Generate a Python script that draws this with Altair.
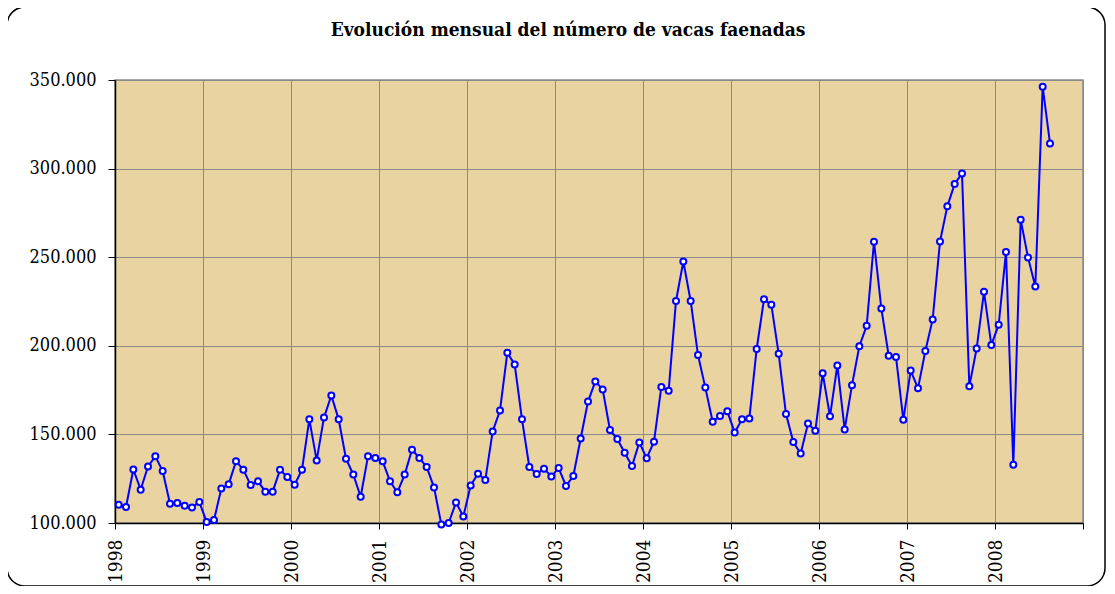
import altair as alt
import pandas as pd

# Monthly values (head of cattle), Jan 1998 .. Aug 2008
v1998 = [110300, 109000, 130200, 118800, 131900, 137600, 129300, 110900, 111300, 109800, 108800, 111800]
v1999 = [100600, 101700, 119400, 121800, 134800, 130100, 121400, 123500, 117700, 117700, 130000, 126000]
v2000 = [121600, 130100, 158500, 135300, 159600, 172000, 158500, 136300, 127300, 114800, 137600, 136700]
v2001 = [134800, 123500, 117300, 127300, 141400, 136700, 131600, 120100, 99200, 100000, 111600, 103700]
v2002 = [121200, 127800, 124300, 151700, 163500, 196100, 189500, 158500, 131600, 127700, 130600, 126300]
v2003 = [131000, 120900, 126500, 147700, 168500, 179900, 175400, 152500, 147400, 139700, 132200, 145400]
v2004 = [136600, 145900, 176800, 174700, 225300, 247600, 225300, 194800, 176400, 157200, 160400, 163000]
v2005 = [151100, 158500, 159000, 198200, 226200, 223200, 195500, 161500, 145700, 139200, 156100, 152100]
v2006 = [184500, 160200, 188900, 152800, 177800, 199800, 211300, 258700, 221100, 194400, 193700, 158200]
v2007 = [186000, 176000, 197100, 214900, 258800, 278700, 291300, 297300, 177200, 198500, 230500, 200400]
v2008 = [211900, 252900, 132900, 271200, 249900, 233500, 346200, 314200]

years = list(range(1998, 2009))
series = [v1998, v1999, v2000, v2001, v2002, v2003, v2004, v2005, v2006, v2007, v2008]
title_text = "Evolución mensual del número de vacas faenadas"

rows = []
for y, vals in zip(years, series):
    for m, v in enumerate(vals):
        idx = (y - 1998) * 12 + m
        rows.append({"t": idx + 0.5, "vacas": v})
df = pd.DataFrame(rows)

year_ticks = [i * 12 for i in range(12)]
y_ticks = [100000, 150000, 200000, 250000, 300000, 350000]

SERIF = "DejaVu Serif Condensed, DejaVu Serif"

x_enc = alt.X(
    "t:Q",
    scale=alt.Scale(domain=[0, 132], nice=False, zero=False),
    axis=alt.Axis(
        values=year_ticks,
        labelExpr="datum.value < 132 ? toString(1998 + datum.value / 12) : ''",
        labelAngle=270,
        labelFont=SERIF,
        labelFontSize=19,
        labelColor="black",
        labelPadding=10,
        tickSize=6,
        tickColor="black",
        domainColor="black",
        domainWidth=1.5,
        grid=True,
        gridColor="#8a8a8a",
        gridWidth=1,
        title=None,
    ),
)
y_enc = alt.Y(
    "vacas:Q",
    scale=alt.Scale(domain=[100000, 350000], nice=False, zero=False),
    axis=alt.Axis(
        values=y_ticks,
        labelExpr="replace(format(datum.value, ','), ',', '.')",
        labelFont=SERIF,
        labelFontSize=18,
        labelColor="black",
        labelPadding=12,
        tickSize=7,
        tickColor="black",
        domainColor="black",
        domainWidth=1.5,
        grid=True,
        gridColor="#8a8a8a",
        gridWidth=1,
        title=None,
    ),
)

base = alt.Chart(df)
line = base.mark_line(color="#0000FF", strokeWidth=2).encode(x=x_enc, y=y_enc)
points = base.mark_point(
    filled=True, fill="white", stroke="#0000FF", strokeWidth=2, size=36, opacity=1
).encode(x="t:Q", y="vacas:Q")

deco = alt.Chart(pd.DataFrame({"title": [title_text]}))
frame = deco.mark_rect(
    fillOpacity=0, stroke="black", strokeWidth=1.5, cornerRadius=18
).encode(
    x=alt.value(-108), x2=alt.value(990), y=alt.value(-73), y2=alt.value(506)
)
title = deco.mark_text(
    font=SERIF, fontSize=19, fontWeight="bold", color="black",
    align="center", baseline="alphabetic"
).encode(x=alt.value(453), y=alt.value(-44), text="title:N")

chart = (
    alt.layer(frame, line, points, title)
    .properties(
        width=968,
        height=443,
        autosize=alt.AutoSizeParams(type="none"),
        padding={"left": 107, "top": 72, "right": 24, "bottom": 63},
        background="white",
    )
    .configure_view(fill="#E8D3A1", stroke="#8a8a8a", strokeWidth=1.5)
)

chart.save("out.html", embed_options={"renderer": "svg", "actions": False})
